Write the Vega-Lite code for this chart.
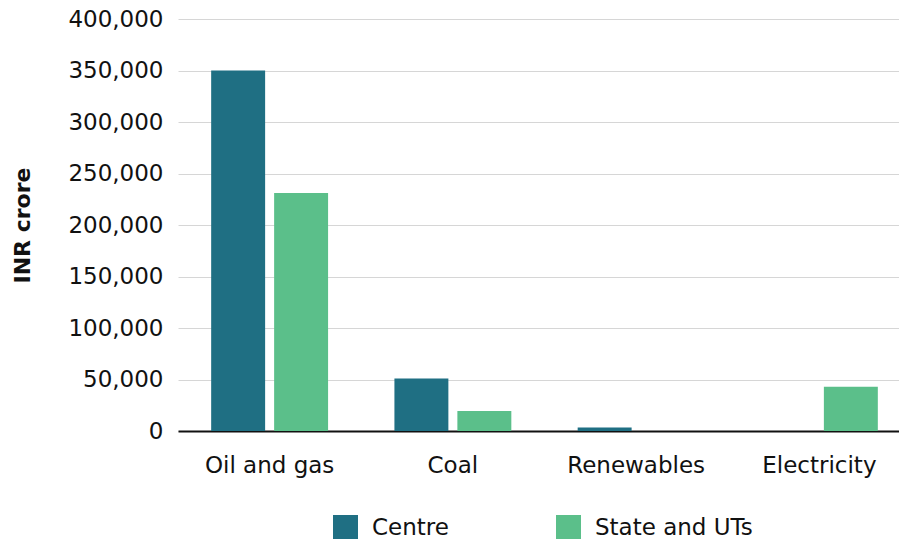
{
  "$schema": "https://vega.github.io/schema/vega-lite/v6.json",
  "autosize": {"type": "none"},
  "padding": {"left": 178, "top": 19, "right": 0, "bottom": 108},
  "width": 721,
  "height": 412,
  "background": "white",
  "config": {
    "font": "DejaVu Sans",
    "view": {"stroke": null}
  },
  "data": {
    "values": [
      {"category": "Oil and gas", "level": "Centre", "value": 350000},
      {"category": "Oil and gas", "level": "State and UTs", "value": 231000},
      {"category": "Coal", "level": "Centre", "value": 51000},
      {"category": "Coal", "level": "State and UTs", "value": 19500},
      {"category": "Renewables", "level": "Centre", "value": 3500},
      {"category": "Renewables", "level": "State and UTs", "value": 0},
      {"category": "Electricity", "level": "Centre", "value": 0},
      {"category": "Electricity", "level": "State and UTs", "value": 43000}
    ]
  },
  "mark": {"type": "bar"},
  "encoding": {
    "x": {
      "field": "category",
      "type": "nominal",
      "sort": ["Oil and gas", "Coal", "Renewables", "Electricity"],
      "scale": {"range": [0, 733], "paddingInner": 0.362, "paddingOuter": 0.181},
      "axis": {
        "title": null,
        "labelAngle": 0,
        "labelFontSize": 23,
        "labelColor": "#111111",
        "labelPadding": 23,
        "ticks": false,
        "domainColor": "#111111",
        "domainWidth": 2,
        "grid": false
      }
    },
    "xOffset": {
      "field": "level",
      "type": "nominal",
      "scale": {"paddingInner": 0.143, "paddingOuter": 0}
    },
    "y": {
      "field": "value",
      "type": "quantitative",
      "scale": {"domain": [0, 400000], "nice": false},
      "axis": {
        "title": "INR crore",
        "titleFontSize": 22,
        "titleFontWeight": "bold",
        "titleColor": "#111111",
        "titlePadding": 33,
        "values": [0, 50000, 100000, 150000, 200000, 250000, 300000, 350000, 400000],
        "format": ",d",
        "labelFontSize": 23,
        "labelColor": "#111111",
        "labelPadding": 15,
        "ticks": false,
        "domain": false,
        "gridColor": "#d6d6d6",
        "gridWidth": 1
      }
    },
    "color": {
      "field": "level",
      "type": "nominal",
      "scale": {"domain": ["Centre", "State and UTs"], "range": ["#1f6f83", "#5bbf8a"]},
      "legend": {
        "title": null,
        "orient": "none",
        "direction": "horizontal",
        "legendX": 155,
        "legendY": 496,
        "columns": 2,
        "gridAlign": "all",
        "columnPadding": 26,
        "symbolType": "square",
        "symbolSize": 625,
        "symbolStrokeWidth": 0,
        "symbolOpacity": 1,
        "labelFontSize": 23,
        "labelColor": "#111111",
        "labelOffset": 14
      }
    }
  }
}
